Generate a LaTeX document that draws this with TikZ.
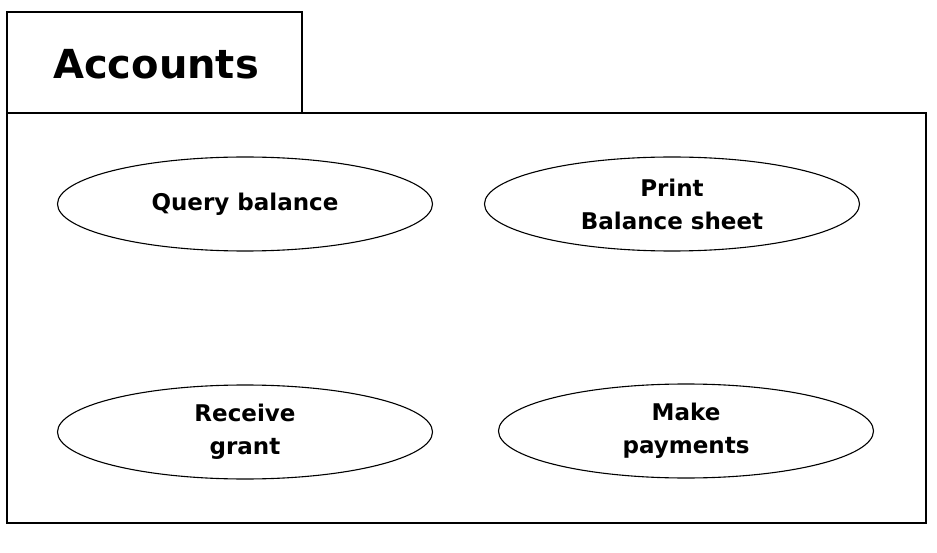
\documentclass[tikz,border=0pt]{standalone}
\usepackage{fontspec}
\setmainfont{DejaVu Sans}
\usetikzlibrary{shapes.geometric}
\begin{document}
\begin{tikzpicture}[x=1pt,y=-1pt,
  usecase/.style={draw,line width=1.1pt,ellipse,minimum width=375pt,minimum height=94pt,inner sep=0pt,align=center,font=\fontsize{23}{33}\selectfont\bfseries},
  frame/.style={draw,line width=1.2pt}]
\useasboundingbox (0,0) rectangle (937,553);
\fill[white] (0,0) rectangle (937,553);
\draw[frame] (7,12) rectangle (302,113);
\node[font=\fontsize{40}{50}\selectfont\bfseries] (title) at (156,64) {Accounts};
\draw[frame] (7,113) rectangle (926,523);
\node[usecase] (q) at (245,204) {Query balance};
\node[usecase] (p) at (672,204) {Print\\Balance sheet};
\node[usecase] (r) at (245,432) {Receive\\grant};
\node[usecase] (m) at (686,431) {Make\\payments};
\end{tikzpicture}
\end{document}
